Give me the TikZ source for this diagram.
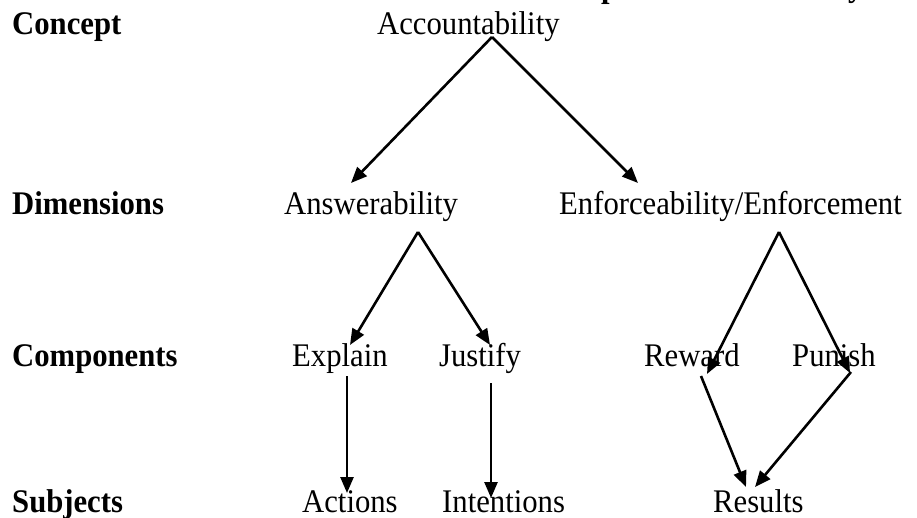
\documentclass[tikz,border=0pt]{standalone}
\usepackage{fontspec}
\setmainfont[FakeStretch=0.93]{Liberation Serif}
\usetikzlibrary{arrows.meta,calc}
\tikzset{
  lbl/.style={anchor=base west,inner sep=0pt,font=\fontsize{33}{38}\selectfont},
  hdr/.style={lbl,font=\fontsize{33}{38}\selectfont\bfseries},
  arr/.style={line width=2.6pt,-{Triangle[length=16pt,width=13pt]}}
}
\begin{document}
\begin{tikzpicture}[x=1pt,y=-1pt]
\useasboundingbox (0,0) rectangle (917,518);
% cut-off title fragments
\node[hdr] (tp) at (601,-2) {p};
\node[hdr] (ty) at (848,-3) {y};
% row headers
\node[hdr] (concept) at (12,35) {Concept};
\node[hdr] (dims) at (12,215) {Dimensions};
\node[hdr] (comps) at (12,366) {Components};
\node[hdr] (subj) at (12,512) {Subjects};
% nodes
\node[lbl] (acc) at (377,35) {Accountability};
\node[lbl] (ans) at (284,215) {Answerability};
\node[lbl] (enf) at (559,215) {Enforceability/Enforcement};
\node[lbl] (expl) at (292,366) {Explain};
\node[lbl] (just) at (439,366) {Justify};
\node[lbl] (rew) at (644,366) {Reward};
\node[lbl] (pun) at (792,366) {Punish};
\node[lbl] (act) at (302,512) {Actions};
\node[lbl] (int) at (442,512) {Intentions};
\node[lbl] (res) at (713,512) {Results};
% connectors
\draw[arr] ($(acc.base west)+(115,2)$) -- ($(ans.base west)+(67,-32)$);
\draw[arr] ($(acc.base west)+(115,2)$) -- ($(enf.base west)+(79,-32)$);
\draw[arr] ($(ans.base west)+(134,17)$) -- ($(expl.base west)+(58,-21)$);
\draw[arr] ($(ans.base west)+(134,17)$) -- ($(just.base west)+(51,-21)$);
\draw[arr] ($(enf.base west)+(220,17)$) -- ($(rew.base west)+(63,8)$);
\draw[arr] ($(enf.base west)+(220,17)$) -- ($(pun.base west)+(58,7)$);
\draw[arr] ($(expl.base west)+(55,10)$) -- ($(act.base west)+(45,-19)$);
\draw[arr] ($(just.base west)+(52,17)$) -- ($(int.base west)+(49,-14)$);
\draw[arr] ($(rew.base west)+(57,10)$) -- ($(res.base west)+(33,-25)$);
\draw[arr] ($(pun.base west)+(59,6)$) -- ($(res.base west)+(42,-25)$);
\end{tikzpicture}
\end{document}
